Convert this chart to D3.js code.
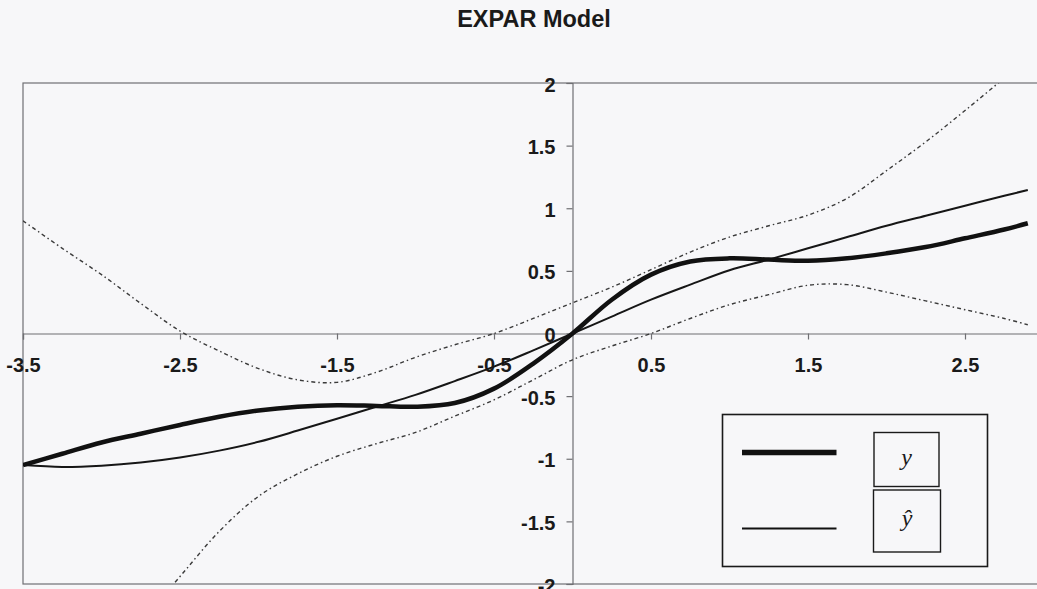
<!DOCTYPE html>
<html>
<head>
<meta charset="utf-8">
<script src="https://cdn.jsdelivr.net/npm/d3@7"></script>
<style>
  html, body { margin: 0; padding: 0; background: #f7f7f9; }
  svg { display: block; }
</style>
</head>
<body>
<script>
// Grid of x positions shared by every series
const xs = [-3.5, -3.25, -3.0, -2.75, -2.5, -2.25, -2.0, -1.75, -1.5, -1.25, -1.0, -0.75,
            -0.5, -0.25, 0, 0.25, 0.5, 0.75, 1.0, 1.25, 1.5, 1.75, 2.0, 2.25, 2.5, 2.75, 2.9];

// True response y
const yTrue = [-1.05, -0.96, -0.87, -0.80, -0.73, -0.665, -0.615, -0.585, -0.572, -0.578, -0.585, -0.555,
               -0.44, -0.24, 0, 0.27, 0.47, 0.575, 0.60, 0.59, 0.58, 0.60, 0.64, 0.69, 0.76, 0.83, 0.88];

// Fitted response y-hat
const yHat = [-1.05, -1.065, -1.055, -1.03, -0.99, -0.935, -0.865, -0.775, -0.68, -0.585, -0.49, -0.38,
              -0.265, -0.135, 0, 0.135, 0.27, 0.39, 0.505, 0.59, 0.68, 0.77, 0.86, 0.94, 1.02, 1.10, 1.145];

// Upper and lower bands
const upper = [0.90, 0.68, 0.47, 0.24, 0.02, -0.14, -0.28, -0.37, -0.39, -0.31, -0.19, -0.09,
               0.0, 0.12, 0.245, 0.37, 0.51, 0.65, 0.77, 0.86, 0.945, 1.08, 1.30, 1.53, 1.78, 2.04, 2.20];
const lower = [-3.1, -2.8, -2.55, -2.3, -1.94, -1.58, -1.30, -1.12, -0.98, -0.88, -0.79, -0.66,
               -0.53, -0.37, -0.21, -0.10, 0.0, 0.12, 0.23, 0.31, 0.385, 0.39, 0.33, 0.26, 0.19, 0.12, 0.07];

const xTicks = [-3.5, -2.5, -1.5, -0.5, 0.5, 1.5, 2.5];
const yTicks = [-2, -1.5, -1, -0.5, 0, 0.5, 1, 1.5, 2];
const title = "EXPAR Model";

const W = 1037, H = 589;
const plotLeft = 23, plotTop = 83, plotBottom = 584;

const svg = d3.select("body").append("svg").attr("width", W).attr("height", H);

const x = d3.scaleLinear().domain([-3.5, 3.0]).range([plotLeft, plotLeft + 157 * 6.5]);
const y = d3.scaleLinear().domain([-2, 2]).range([plotBottom, plotTop]);

const font = "'Liberation Sans', Arial, sans-serif";
const axisColor = "#6f6f73";
const fmt = d => String(d);

// Title
svg.append("text")
  .attr("x", 534).attr("y", 27)
  .attr("text-anchor", "middle")
  .attr("font-family", font).attr("font-weight", "bold").attr("font-size", 23.5)
  .attr("fill", "#1a1a1a")
  .text(title);

// Plot frame
svg.append("rect")
  .attr("x", x(-3.5)).attr("y", y(2))
  .attr("width", x(3.0) - x(-3.5)).attr("height", y(-2) - y(2))
  .attr("fill", "none").attr("stroke", axisColor).attr("stroke-width", 1.2);

svg.append("defs").append("clipPath").attr("id", "plot")
  .append("rect")
  .attr("x", x(-3.5)).attr("y", y(2))
  .attr("width", x(3.0) - x(-3.5)).attr("height", y(-2) - y(2));

// X axis through y = 0
const xAxis = d3.axisBottom(x).tickValues(xTicks).tickSize(6).tickFormat(fmt);
const gx = svg.append("g").attr("transform", `translate(0,${y(0)})`).call(xAxis);
gx.select(".domain").attr("stroke", axisColor).attr("stroke-width", 1.2);
gx.selectAll(".tick line").attr("stroke", axisColor).attr("stroke-width", 1.2);
gx.selectAll(".tick text")
  .attr("font-family", font).attr("font-weight", "bold").attr("font-size", 20)
  .attr("fill", "#1a1a1a").attr("y", 38).attr("dy", 0);

// Y axis through x = 0
const yAxis = d3.axisLeft(y).tickValues(yTicks).tickSize(6).tickFormat(fmt);
const gy = svg.append("g").attr("transform", `translate(${x(0)},0)`).call(yAxis);
gy.select(".domain").attr("stroke", axisColor).attr("stroke-width", 1.2);
gy.selectAll(".tick line").attr("stroke", axisColor).attr("stroke-width", 1.2);
gy.selectAll(".tick text")
  .attr("font-family", font).attr("font-weight", "bold").attr("font-size", 20)
  .attr("fill", "#1a1a1a").attr("x", -17).attr("dy", "0.4em");

// Series
const line = vals => d3.line()
  .x((d, i) => x(xs[i]))
  .y(d => y(d))
  .curve(d3.curveCatmullRom.alpha(0.5))(vals);

const plot = svg.append("g").attr("clip-path", "url(#plot)");

[upper, lower].forEach(vals => {
  plot.append("path")
    .attr("d", line(vals))
    .attr("fill", "none")
    .attr("stroke", "#3a3a3a")
    .attr("stroke-width", 1.4)
    .attr("stroke-dasharray", "4,3,1.5,3");
});

plot.append("path")
  .attr("d", line(yHat))
  .attr("fill", "none").attr("stroke", "#161616").attr("stroke-width", 2);

plot.append("path")
  .attr("d", line(yTrue))
  .attr("fill", "none").attr("stroke", "#111").attr("stroke-width", 4.5);

// Legend
const lg = svg.append("g");
lg.append("rect")
  .attr("x", 722.5).attr("y", 414.5).attr("width", 265).attr("height", 152)
  .attr("fill", "#f7f7f9").attr("stroke", "#1a1a1a").attr("stroke-width", 1.6);

const items = [
  { label: "y", hat: false, width: 5.5, ly: 452.5, box: [874, 432.5, 65, 54] },
  { label: "y", hat: true, width: 2.2, ly: 528.5, box: [873.5, 490, 67, 62] }
];
items.forEach(it => {
  lg.append("line")
    .attr("x1", 742).attr("x2", 836.5).attr("y1", it.ly).attr("y2", it.ly)
    .attr("stroke", "#111").attr("stroke-width", it.width);
  lg.append("rect")
    .attr("x", it.box[0]).attr("y", it.box[1]).attr("width", it.box[2]).attr("height", it.box[3])
    .attr("fill", "none").attr("stroke", "#1a1a1a").attr("stroke-width", 1.4);
  lg.append("text")
    .attr("x", it.box[0] + it.box[2] / 2)
    .attr("y", it.box[1] + it.box[3] / 2 + 5)
    .attr("text-anchor", "middle")
    .attr("font-family", "'Liberation Serif', 'Times New Roman', serif")
    .attr("font-style", "italic").attr("font-size", 24).attr("fill", "#1a1a1a")
    .text(it.hat ? "\u0177" : it.label);
});
</script>
</body>
</html>
